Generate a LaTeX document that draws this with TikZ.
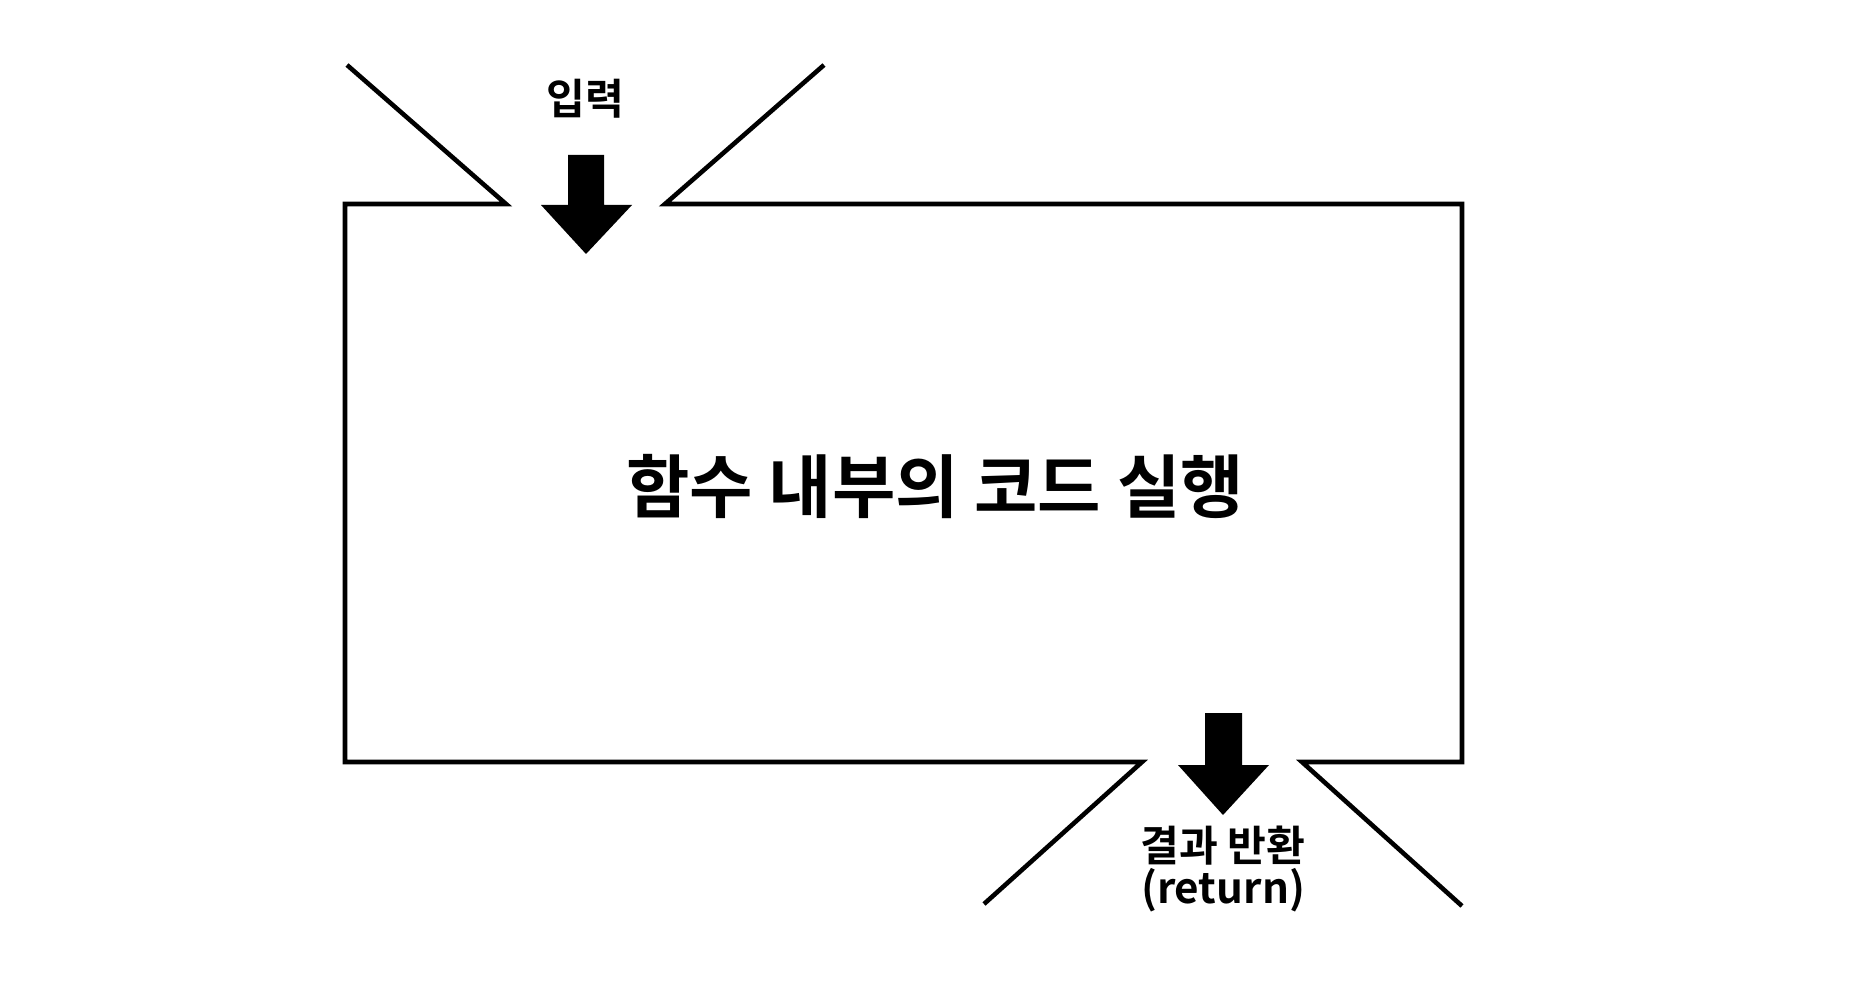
\documentclass[tikz,border=0pt]{standalone}
\usepackage{fontspec}
\newfontfamily\krfont{Noto Sans CJK KR}[BoldFont={* Bold}]
\usetikzlibrary{positioning}

\begin{document}
\begin{tikzpicture}[x=0.01cm, y=-0.01cm,
  frame/.style={line width=1.3pt, line join=miter},
  blockarrow/.style={fill=black},
  lbl/.style={font=\krfont\bfseries\fontsize{12}{14}\selectfont, inner sep=0pt}]
\useasboundingbox (0,0) rectangle (1854,988);
% frame with the two openings
\draw[frame] (347,65) -- (506,204) -- (345,204) -- (345,762) -- (1142,762) -- (984,904);
\draw[frame] (824,65) -- (665,204) -- (1462,204) -- (1462,762) -- (1302,762) -- (1462,906);
% input arrow
\coordinate (intip) at (586,254);
\fill[blockarrow] (568,155) -- (604,155) -- (604,205) -- (632,205) -- (intip) -- (541,205) -- (568,205) -- cycle;
\node[lbl] (input) at (585,99) {입력};
% main text
\node[lbl, font=\krfont\bfseries\fontsize{19.6}{24}\selectfont] (body) at (935,487) {함수 내부의 코드 실행};
% return arrow
\coordinate (outtip) at (1223,815);
\fill[blockarrow] (1205,713) -- (1242,713) -- (1242,765) -- (1269,765) -- (outtip) -- (1178,765) -- (1205,765) -- cycle;
\node[lbl, font=\krfont\bfseries\fontsize{12}{12}\selectfont, align=center] (result) at (1223,869) {결과 반환\\(return)};
\end{tikzpicture}
\end{document}
